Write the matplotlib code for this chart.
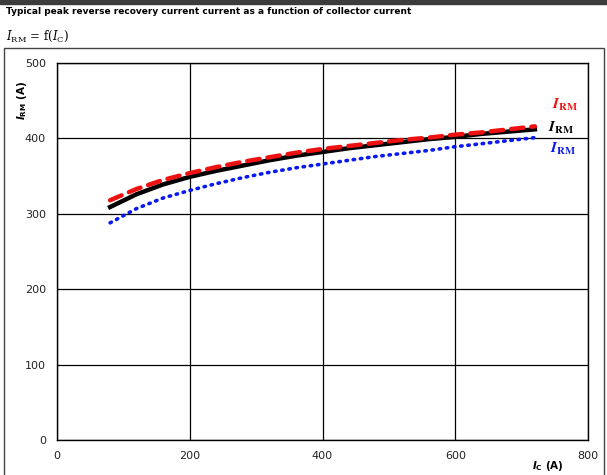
import matplotlib.pyplot as plt
import numpy as np
from matplotlib.patches import Rectangle

# collector current (A)
ic = [80, 120, 160, 200, 240, 280, 320, 360, 400, 440, 480, 520, 560, 600, 640, 680, 720]
# peak reverse recovery current (A)
irm_black = [309, 326, 339, 349, 357, 364, 371, 377, 382, 387, 391, 395, 399, 402, 406, 409, 412]
irm_red = [318, 333, 345, 354, 362, 369, 375, 381, 386, 390, 394, 398, 401, 405, 408, 412, 416]
irm_blue = [288, 307, 321, 331, 340, 348, 355, 361, 366, 371, 376, 380, 384, 389, 393, 397, 401]

xticks = [0, 200, 400, 600, 800]
yticks = [0, 100, 200, 300, 400, 500]

fig = plt.figure(figsize=(6.07, 4.75), dpi=100)
W, H = 607, 475

# dark bar on top and frame box
fig.patches.append(Rectangle((0, 1 - 4 / H), 1, 4 / H, transform=fig.transFigure,
                             color='#3c3c3c', zorder=0))
fig.patches.append(Rectangle((4 / W, -0.01), 600 / W, 1 - 48 / H + 0.01, transform=fig.transFigure,
                             fill=False, edgecolor='#444444', lw=1.0, zorder=0))

fig.text(6 / W, 1 - 12 / H, 'Typical peak reverse recovery current current as a function of collector current',
         fontsize=6.5, fontweight='bold', va='center', ha='left')
fig.text(6 / W, 1 - 36 / H, r'$I_{\mathrm{RM}}$ = f($I_{\mathrm{C}}$)', fontsize=8.5,
         va='center', ha='left', family='DejaVu Serif', math_fontfamily='dejavuserif')

ax = fig.add_axes([57 / W, 1 - 440 / H, (588 - 57) / W, (440 - 63) / H])
ax.set_xlim(0, 800)
ax.set_ylim(0, 500)
ax.set_xticks(xticks)
ax.set_yticks(yticks)
ax.tick_params(length=0, labelsize=8, colors='#222222', pad=8)
ax.grid(True, color='black', lw=0.9)
for s in ax.spines.values():
    s.set_linewidth(1.0)

ax.plot(ic, irm_blue, color='#0a1aee', lw=2.6, linestyle=(0, (0.4, 1.6)), dash_capstyle='round', zorder=3)
ax.plot(ic, irm_black, color='black', lw=3.2, zorder=4)
ax.plot(ic, irm_red, color='#ee1111', lw=3.2, linestyle=(0, (2.8, 1.8)), dash_capstyle='round', zorder=5)

lab = r'$\mathbfit{I}_{\mathbf{RM}}$'
ax.text(552 / W, 1 - 105 / H, lab, transform=fig.transFigure, color='#ee1111', fontsize=11,
        va='center', ha='left', math_fontfamily='stix')
ax.text(548 / W, 1 - 128 / H, lab, transform=fig.transFigure, color='black', fontsize=11,
        va='center', ha='left', math_fontfamily='stix')
ax.text(550 / W, 1 - 149 / H, lab, transform=fig.transFigure, color='#0a1aee', fontsize=11,
        va='center', ha='left', math_fontfamily='stix')

fig.text(22 / W, 1 - 100 / H, r'$\mathbfit{I}_{\mathbf{RM}}$ (A)', rotation=90, fontsize=7.5,
         fontweight='bold', va='center', ha='center')
fig.text(548 / W, 1 - 466 / H, r'$\mathbfit{I}_{\mathbf{C}}$ (A)', fontsize=7.5,
         fontweight='bold', va='center', ha='center')

fig.savefig('out.png', dpi=100)
